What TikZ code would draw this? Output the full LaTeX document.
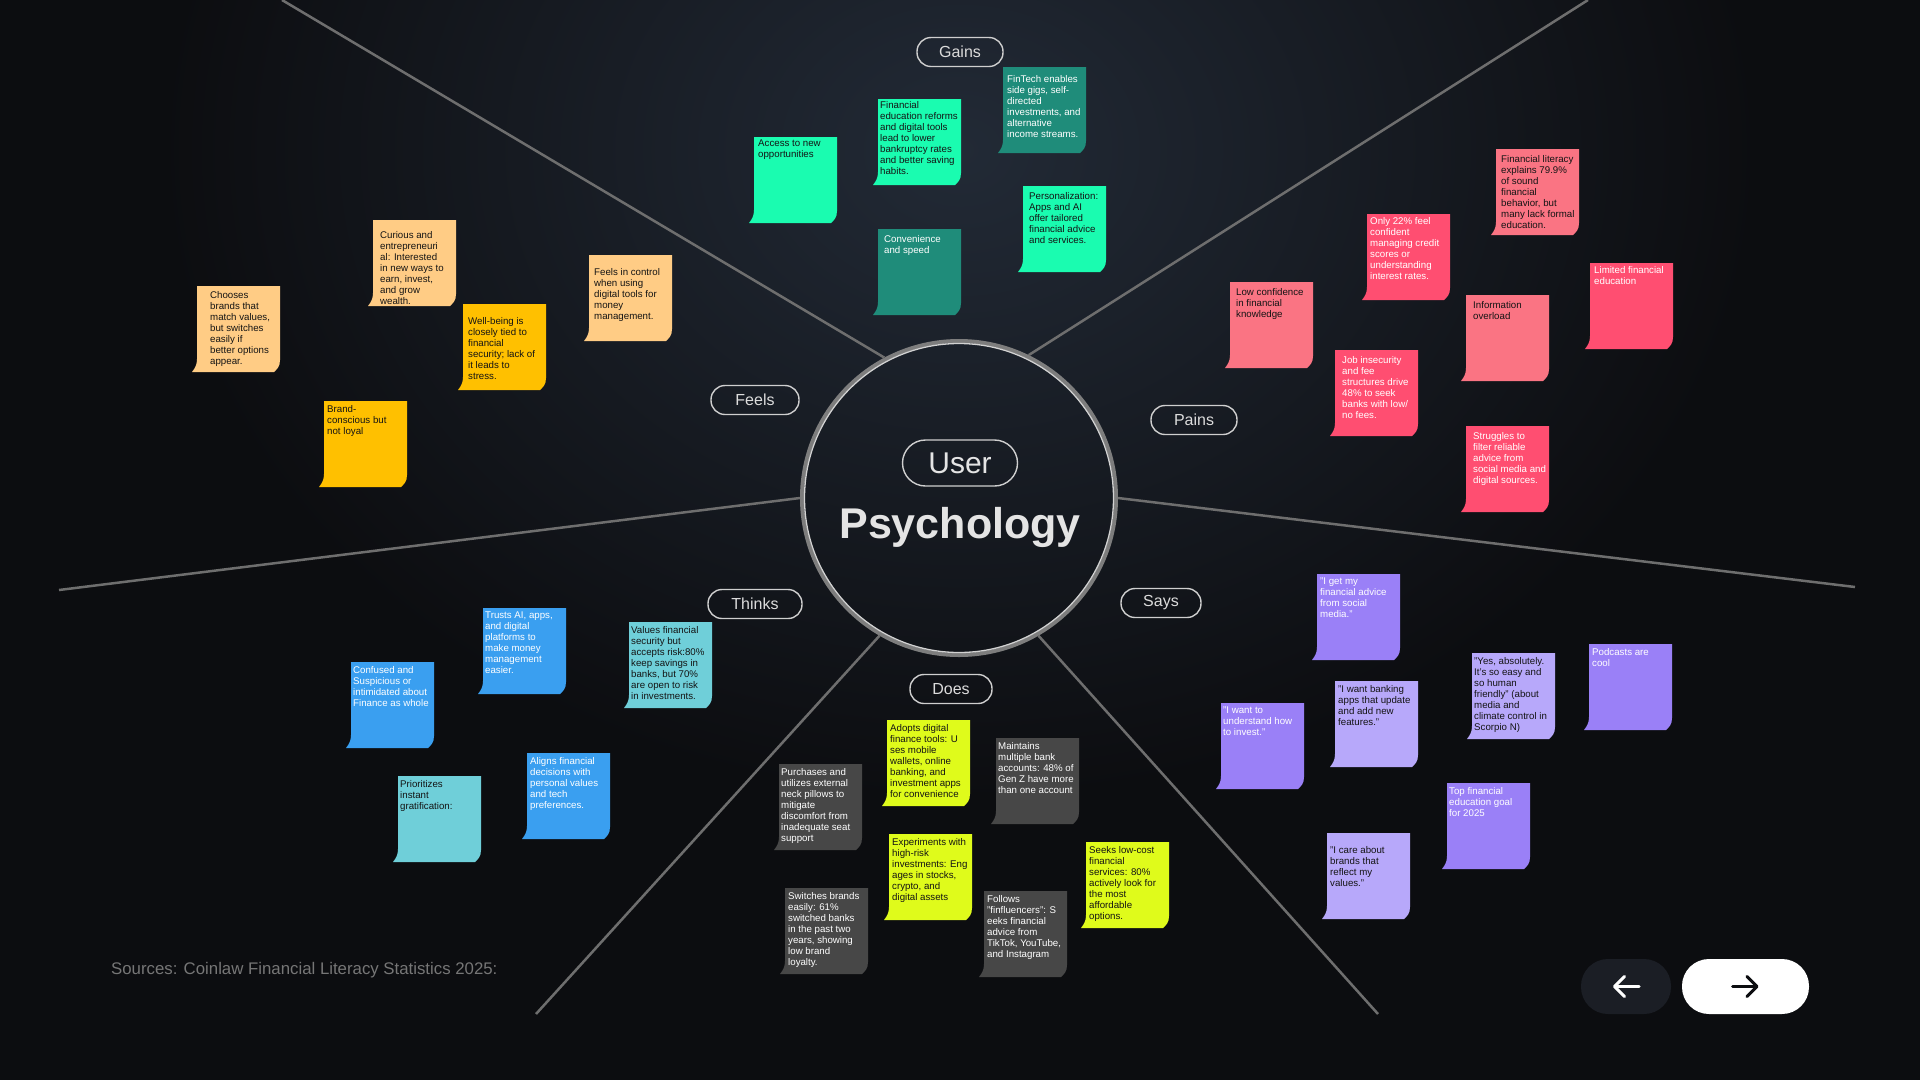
\documentclass[tikz,border=0pt]{standalone}
\usepackage{fontspec}
\setmainfont{Liberation Sans}
\usetikzlibrary{arrows.meta}

\definecolor{bgdark}{HTML}{0C0D10}
\definecolor{bgglow}{HTML}{222A36}
\definecolor{spokegrey}{HTML}{6E6E6E}
\definecolor{ringgrey}{HTML}{7D7D7D}
\definecolor{ringlight}{HTML}{D2D2D2}
\definecolor{pillline}{HTML}{CFCFCF}
\definecolor{labeltext}{HTML}{DCDCDC}
\definecolor{titletext}{HTML}{E4E4E4}
\definecolor{sourcegrey}{HTML}{767676}
\definecolor{btndark}{HTML}{1B1E25}
\definecolor{notedark}{HTML}{141414}
\definecolor{gainmint}{HTML}{1AFCB0}
\definecolor{gainteal}{HTML}{1F8C7A}
\definecolor{painsalmon}{HTML}{FA7483}
\definecolor{painhot}{HTML}{FF4E71}
\definecolor{feelpeach}{HTML}{FFCC85}
\definecolor{feelamber}{HTML}{FFC000}
\definecolor{thinkblue}{HTML}{3A9FF0}
\definecolor{thinkcyan}{HTML}{6FCFD9}
\definecolor{doeslime}{HTML}{DFFB1B}
\definecolor{doesgrey}{HTML}{474747}
\definecolor{sayspurple}{HTML}{9A80F7}
\definecolor{sayslav}{HTML}{B7A8FA}

\tikzset{
  spoke/.style={draw=spokegrey, line width=2.5pt},
  pill/.style={draw=pillline, line width=1.4pt, rounded corners=14pt, minimum height=29pt,
    inner sep=0pt, text=labeltext, font=\fontsize{16}{18}\selectfont},
  notetext/.style={anchor=north west, inner sep=0pt, align=left, font=\fontsize{9.7}{11}\selectfont},
  btnarrow/.style={line width=3pt, line cap=round, -{Straight Barb[length=10pt, width=20pt, round]}},
}

% sticky note: [text offset] name, x, y, fill, text colour, text
\newcommand{\sticky}[7][3,4]{%
  \begin{scope}[shift={(#3,#4)}]
    \fill[#5] (0,0) -- (83,0) -- (83,74) .. controls (83,81) and (80,83) .. (77,86)
      -- (-5,86) .. controls (-2,82) and (0,79) .. (0,73) -- cycle;
    \node[notetext, text=#6] (#2) at (#1) {#7};
  \end{scope}}

\begin{document}
\begin{tikzpicture}[x=1pt, y=-1pt]
  \useasboundingbox (0,0) rectangle (1920,1080);
  \clip (0,0) rectangle (1920,1080);
  \fill[bgdark] (0,0) rectangle (1920,1080);
  \shade[inner color=bgglow, outer color=bgdark] (960,150) ellipse (800 and 650);

  % centre
  \node[circle, draw=ringgrey, line width=4pt, minimum size=314pt, inner sep=0pt] (core) at (959,498) {};
  \draw[ringlight, line width=1.3pt] (core.center) circle[radius=154.5pt];
  \coordinate (ulEnd) at (282,0);
  \coordinate (urEnd) at (1588,0);
  \coordinate (lEnd) at (59,590);
  \coordinate (rEnd) at (1855,587);
  \coordinate (llEnd) at (536,1014);
  \coordinate (lrEnd) at (1378,1014);
  \draw[spoke] (core.118) -- (ulEnd);
  \draw[spoke] (core.64) -- (urEnd);
  \draw[spoke] (core.180) -- (lEnd);
  \draw[spoke] (core.0) -- (rEnd);
  \draw[spoke] (core.240) -- (llEnd);
  \draw[spoke] (core.-60) -- (lrEnd);

  \node[pill, minimum width=115pt, rounded corners=23pt, minimum height=46pt, font=\fontsize{30}{32}\selectfont, text=titletext] (user) at (960,463) {User};
  \node[anchor=base, text=titletext, font=\fontsize{43}{46}\selectfont\bfseries] (psych) at (960,538) {Psychology};

  % section labels
  \node[pill, minimum width=86pt] (gains) at (960,52) {Gains};
  \node[pill, minimum width=88pt] (feels) at (755,400) {Feels};
  \node[pill, minimum width=86pt] (pains) at (1194,420) {Pains};
  \node[pill, minimum width=94pt] (thinks) at (755,604) {Thinks};
  \node[pill, minimum width=80pt] (says) at (1161,603) {Says};
  \node[pill, minimum width=82pt] (does) at (951,689) {Does};

  % gains
  \sticky[4,3]{gAccess}{754}{137}{gainmint}{notedark}{Access to new\\opportunities}
  \sticky[2,2]{gReforms}{878}{99}{gainmint}{notedark}{Financial\\education reforms\\and digital tools\\lead to lower\\bankruptcy rates\\and better saving\\habits.}
  \sticky[4,8]{gFintech}{1003}{67}{gainteal}{white}{FinTech enables\\side gigs, self-\\directed\\investments, and\\alternative\\income streams.}
  \sticky[6,6]{gPersonal}{1023}{186}{gainmint}{notedark}{Personalization:\\Apps and AI\\offer tailored\\financial advice\\and services.}
  \sticky[6,6]{gSpeed}{878}{229}{gainteal}{white}{Convenience\\and speed}

  % pains
  \sticky[5,6]{pLiteracy}{1496}{149}{painsalmon}{notedark}{Financial literacy\\explains 79.9\%\\of sound\\financial\\behavior, but\\many lack formal\\education.}
  \sticky[3,3]{pCredit}{1367}{214}{painhot}{white}{Only 22\% feel\\confident\\managing credit\\scores or\\understanding\\interest rates.}
  \sticky[6,6]{pConfidence}{1230}{282}{painsalmon}{notedark}{Low confidence\\in financial\\knowledge}
  \sticky[7,6]{pJobs}{1335}{350}{painhot}{white}{Job insecurity\\and fee\\structures drive\\48\% to seek\\banks with low/\\no fees.}
  \sticky[7,6]{pOverload}{1466}{295}{painsalmon}{notedark}{Information\\overload}
  \sticky[4,3]{pLimited}{1590}{263}{painhot}{white}{Limited financial\\education}
  \sticky[7,6]{pFilter}{1466}{426}{painhot}{white}{Struggles to\\filter reliable\\advice from\\social media and\\digital sources.}

  % feels
  \sticky[13,5]{fBrands}{197}{286}{feelpeach}{notedark}{Chooses\\brands that\\match values,\\but switches\\easily if\\better options\\appear.}
  \sticky[7,11]{fCurious}{373}{220}{feelpeach}{notedark}{Curious and\\entrepreneuri\\al: Interested\\in new ways to\\earn, invest,\\and grow\\wealth.}
  \sticky[5,13]{fControl}{589}{255}{feelpeach}{notedark}{Feels in control\\when using\\digital tools for\\money\\management.}
  \sticky[5,13]{fWellbeing}{463}{304}{feelamber}{notedark}{Well-being is\\closely tied to\\financial\\security; lack of\\it leads to\\stress.}
  \sticky[3,4]{fLoyal}{324}{401}{feelamber}{notedark}{Brand-\\conscious but\\not loyal}

  % thinks
  \sticky[2,4]{tTrust}{483}{608}{thinkblue}{white}{Trusts AI, apps,\\and digital\\platforms to\\make money\\management\\easier.}
  \sticky[2,4]{tSecurity}{629}{622}{thinkcyan}{notedark}{Values financial\\security but\\accepts risk:80\%\\keep savings in\\banks, but 70\%\\are open to risk\\in investments.}
  \sticky[2,4]{tConfused}{351}{662}{thinkblue}{white}{Confused and\\Suspicious or\\intimidated about\\Finance as whole}
  \sticky[2,4]{tInstant}{398}{776}{thinkcyan}{notedark}{Prioritizes\\instant\\gratification:}
  \sticky[3,4]{tAligns}{527}{753}{thinkblue}{white}{Aligns financial\\decisions with\\personal values\\and tech\\preferences.}

  % does
  \sticky[3,4]{dAdopts}{887}{720}{doeslime}{notedark}{Adopts digital\\finance tools: U\\ses mobile\\wallets, online\\banking, and\\investment apps\\for convenience}
  \sticky[2,4]{dAccounts}{996}{738}{doesgrey}{white}{Maintains\\multiple bank\\accounts: 48\% of\\Gen Z have more\\than one account}
  \sticky[2,4]{dPillows}{779}{764}{doesgrey}{white}{Purchases and\\utilizes external\\neck pillows to\\mitigate\\discomfort from\\inadequate seat\\support}
  \sticky[3,4]{dRisk}{889}{834}{doeslime}{notedark}{Experiments with\\high-risk\\investments: Eng\\ages in stocks,\\crypto, and\\digital assets}
  \sticky[3,4]{dLowcost}{1086}{842}{doeslime}{notedark}{Seeks low-cost\\financial\\services: 80\%\\actively look for\\the most\\affordable\\options.}
  \sticky[3,4]{dSwitch}{785}{888}{doesgrey}{white}{Switches brands\\easily: 61\%\\switched banks\\in the past two\\years, showing\\low brand\\loyalty.}
  \sticky[3,4]{dFinflu}{984}{891}{doesgrey}{white}{Follows\\"finfluencers": S\\eeks financial\\advice from\\TikTok, YouTube,\\and Instagram}

  % says
  \sticky[3,4]{sSocial}{1317}{574}{sayspurple}{white}{"I get my\\financial advice\\from social\\media."}
  \sticky[3,4]{sUpdate}{1335}{681}{sayslav}{notedark}{"I want banking\\apps that update\\and add new\\features."}
  \sticky[2,4]{sHuman}{1472}{653}{sayslav}{notedark}{"Yes, absolutely.\\It's so easy and\\so human\\friendly" (about\\media and\\climate control in\\Scorpio N)}
  \sticky[3,4]{sPodcast}{1589}{644}{sayspurple}{white}{Podcasts are\\cool}
  \sticky[2,4]{sInvest}{1221}{703}{sayspurple}{white}{"I want to\\understand how\\to invest."}
  \sticky[2,4]{sGoal}{1447}{783}{sayspurple}{white}{Top financial\\education goal\\for 2025}
  \sticky[3,13]{sValues}{1327}{833}{sayslav}{notedark}{"I care about\\brands that\\reflect my\\values."}

  % footer
  \node[anchor=base west, inner sep=0pt, text=sourcegrey, font=\fontsize{16.8}{19}\selectfont] (sources) at (111,974) {Sources: Coinlaw Financial Literacy Statistics 2025:};
  \node[fill=btndark, rounded corners=27pt, minimum width=90pt, minimum height=55pt] (prevBtn) at (1626,986.5) {};
  \node[fill=white, rounded corners=27pt, minimum width=127pt, minimum height=55pt] (nextBtn) at (1745.5,986.5) {};
  \draw[btnarrow, white] ([xshift=13pt]prevBtn.center) -- ([xshift=-13pt]prevBtn.center);
  \draw[btnarrow, bgdark] ([xshift=-13pt]nextBtn.center) -- ([xshift=13pt]nextBtn.center);
\end{tikzpicture}
\end{document}
